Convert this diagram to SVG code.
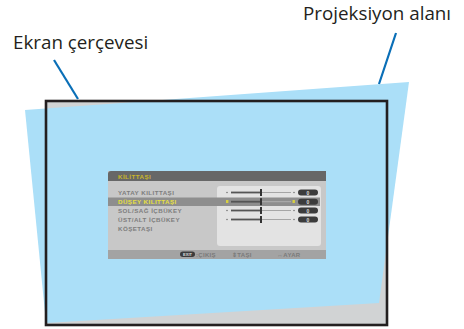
<svg xmlns="http://www.w3.org/2000/svg" width="464" height="329" viewBox="0 0 464 329">
<style>
.lbl{font-family:"Open Sans","Liberation Sans",sans-serif;font-size:18.8px;fill:#231f20}
.lead{stroke:#0a6fb7;stroke-width:2.2;fill:none}
.mt{font-family:"Liberation Sans",sans-serif;font-size:6.2px;letter-spacing:0.45px;fill:#7d7d7d;font-weight:bold}
.ft{font-family:"Liberation Sans",sans-serif;font-size:6px;letter-spacing:0.3px;fill:#7a7a7a;font-weight:bold}
.track{stroke:#555;stroke-width:1.8}
.thin{stroke:#8a8a8a;stroke-width:0.7}
.pill{fill:#3c3c3c}
.pv{font-family:"Liberation Sans",sans-serif;font-size:5px;fill:#ddd;text-anchor:middle;font-weight:bold}
</style>
<rect width="464" height="329" fill="#ffffff"/>
<g id="screen-frame-bg">
<rect x="46" y="101" width="341" height="224" fill="#d1d3d4"/>
</g>
<g id="projection-area">
<polygon points="25,110 409,82 379,303 46,323" fill="#abdff8"/>
</g>
<g id="screen-frame">
<rect x="46" y="101" width="341" height="224" fill="none" stroke="#231f20" stroke-width="2.6"/>
</g>
<g id="menu">
<rect x="108" y="171" width="218" height="88" fill="#c8c8c8"/>
<path d="M111,171 H326 V181 H108 V174 Q108,171 111,171 Z" fill="#676767"/>
<text x="118" y="178.5" class="mt" style="fill:#c9b72a">KİLİTTAŞI</text>
<rect x="217" y="186" width="104" height="60" rx="3" fill="#e3e3e3"/>
<rect x="108" y="197.5" width="212" height="8.5" fill="#8e8e8e"/>
<rect x="108" y="250" width="218" height="9" fill="#a3a3a3"/>
<text x="118" y="194.6" class="mt">YATAY KILITTAŞI</text>
<text x="118" y="204" class="mt" style="fill:#e8e040">DÜŞEY KILITTAŞI</text>
<text x="118" y="212.7" class="mt">SOL/SAĞ İÇBÜKEY</text>
<text x="118" y="221.7" class="mt">ÜST/ALT İÇBÜKEY</text>
<text x="118" y="230.5" class="mt">KÖŞETAŞI</text>
<g id="slider1">
<circle cx="227" cy="192.5" r="0.8" fill="#777"/>
<line x1="231" y1="192.5" x2="261" y2="192.5" class="track"/>
<line x1="261" y1="192.5" x2="291" y2="192.5" class="thin"/>
<rect x="260" y="189" width="2" height="7" fill="#333"/>
<circle cx="294" cy="192.5" r="0.8" fill="#777"/>
<rect x="298" y="189.5" width="20" height="6" rx="3" class="pill"/>
<text x="308" y="194.6" class="pv">0</text>
</g>
<g id="slider2">
<rect x="226" y="200" width="2.4" height="3" fill="#d8d040"/>
<line x1="231" y1="201.7" x2="261" y2="201.7" class="track"/>
<line x1="261" y1="201.7" x2="291" y2="201.7" class="thin" style="stroke:#bbb"/>
<rect x="260" y="198.2" width="2" height="7" fill="#333"/>
<rect x="292.5" y="200" width="2.4" height="3" fill="#d8d040"/>
<rect x="298" y="198.7" width="20" height="6" rx="3" class="pill"/>
<text x="308" y="203.8" class="pv">0</text>
</g>
<g id="slider3">
<circle cx="227" cy="210.5" r="0.8" fill="#777"/>
<line x1="231" y1="210.5" x2="261" y2="210.5" class="track"/>
<line x1="261" y1="210.5" x2="291" y2="210.5" class="thin"/>
<rect x="260" y="207" width="2" height="7" fill="#333"/>
<circle cx="294" cy="210.5" r="0.8" fill="#777"/>
<rect x="298" y="207.5" width="20" height="6" rx="3" class="pill"/>
<text x="308" y="212.6" class="pv">0</text>
</g>
<g id="slider4">
<circle cx="227" cy="219.5" r="0.8" fill="#777"/>
<line x1="231" y1="219.5" x2="261" y2="219.5" class="track"/>
<line x1="261" y1="219.5" x2="291" y2="219.5" class="thin"/>
<rect x="260" y="216" width="2" height="7" fill="#333"/>
<circle cx="294" cy="219.5" r="0.8" fill="#777"/>
<rect x="298" y="216.5" width="20" height="6" rx="3" class="pill"/>
<text x="308" y="221.6" class="pv">0</text>
</g>
<rect x="180" y="251.5" width="15" height="5.5" rx="2.75" fill="#3c3c3c"/>
<text x="187.5" y="255.8" class="pv" style="font-size:4px">EXIT</text>
<text x="196" y="256.8" class="ft">:ÇIKIŞ</text>
<text x="232" y="256.8" class="ft">⇕TAŞI</text>
<text x="277" y="256.8" class="ft">↔AYAR</text>
</g>
<g id="connectors">
<line x1="54" y1="60" x2="78" y2="99" class="lead"/>
<line x1="396" y1="33" x2="379" y2="84" class="lead"/>
</g>
<g id="label-ekran">
<text x="13" y="49" class="lbl">Ekran çerçevesi</text>
</g>
<g id="label-projeksiyon">
<text x="303" y="20" class="lbl">Projeksiyon alanı</text>
</g>
</svg>
